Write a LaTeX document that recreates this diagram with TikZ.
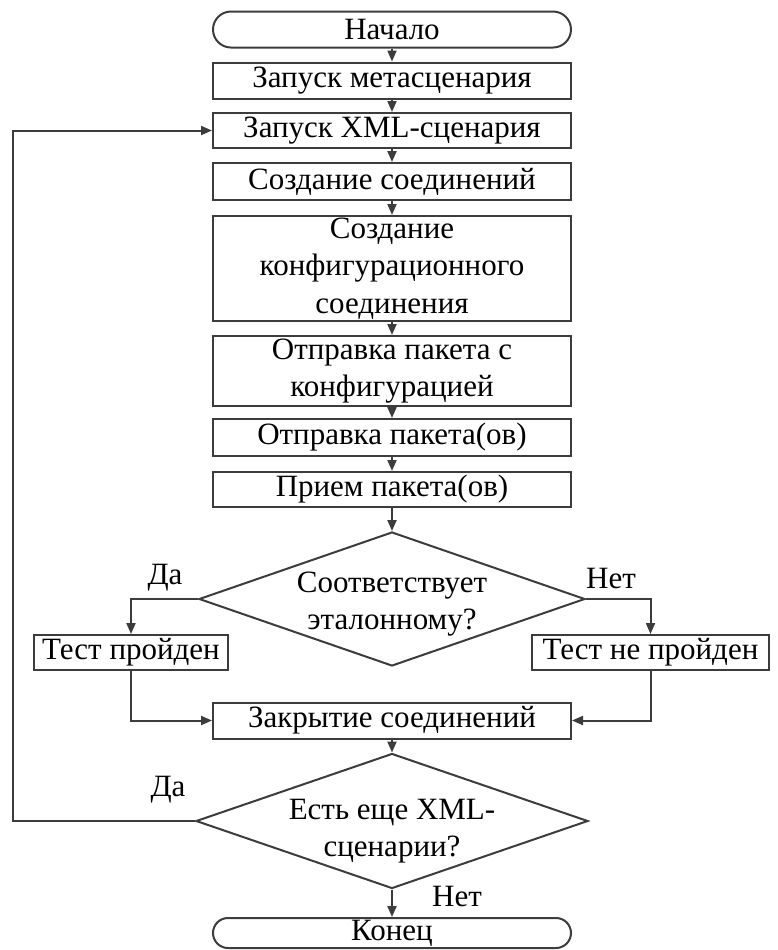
\documentclass[tikz,border=0pt]{standalone}
\usepackage{fontspec}
\setmainfont{Liberation Serif}
\usetikzlibrary{arrows.meta, shapes.geometric, shapes.misc}
\definecolor{linegray}{HTML}{3C3C3C}

\tikzset{
    every node/.style={font=\fontsize{15.5pt}{18.75pt}\selectfont, text=black},
    stepbox/.style={draw=linegray, line width=1pt, rectangle, minimum width=179pt, inner sep=0pt, align=center},
    termbox/.style={draw=linegray, line width=1pt, rounded rectangle, minimum width=179pt, minimum height=18pt, inner sep=0pt},
    testbox/.style={draw=linegray, line width=1pt, rectangle, minimum height=17.5pt, inner sep=0pt},
    decide/.style={draw=linegray, line width=1pt, diamond, aspect=2.9, inner sep=0pt},
    flow/.style={draw=linegray, line width=1pt, -{Triangle[length=5.5pt, width=4.5pt]}}
}

\begin{document}
\begin{tikzpicture}[x=0.5pt, y=-0.5pt]
    \useasboundingbox (0,0) rectangle (778,950);

    % main column
    \node[termbox] (start) at (392, 29.5) {Начало};
    \node[stepbox, minimum height=18pt] (launchmeta) at (392, 80.5) {Запуск метасценария};
    \node[stepbox, minimum height=17.5pt] (launchxml) at (392, 130.5) {Запуск XML-сценария};
    \node[stepbox, minimum height=18.5pt] (mkconn) at (392, 181.5) {Создание соединений};
    \node[stepbox, minimum height=52.5pt] (mkcfg) at (392, 268.5) {Создание\\конфигурационного\\соединения};
    \node[stepbox, minimum height=35pt] (sendcfg) at (392, 371) {Отправка пакета с\\конфигурацией};
    \node[stepbox, minimum height=18.5pt] (sendpkt) at (392, 437.5) {Отправка пакета(ов)};
    \node[stepbox, minimum height=17.5pt] (recvpkt) at (392, 489.5) {Прием пакета(ов)};

    % first decision
    \node[decide, minimum width=193pt, minimum height=67pt] (match) at (392, 599) {};
    \node[align=center] (matchtext) at (392, 604) {Соответствует\\эталонному?};
    \node[testbox, minimum width=97pt] (passed) at (131, 652.5) {Тест пройден};
    \node[testbox, minimum width=118.5pt] (failed) at (650.5, 652.5) {Тест не пройден};
    \node[stepbox, minimum height=18pt] (closeconn) at (392, 720.5) {Закрытие соединений};

    % second decision
    \node[decide, minimum width=196pt, minimum height=67.5pt] (more) at (392, 821) {};
    \node[align=center] (moretext) at (392, 831) {Есть еще XML-\\сценарии?};
    \node[termbox, minimum height=15pt] (finish) at (392, 933) {Конец};
    \coordinate (loopcorner) at (13, 821);

    % labels
    \node (yes1) at (165, 578) {Да};
    \node (no1) at (611, 578) {Нет};
    \node (yes2) at (168, 790) {Да};
    \node (no2) at (457, 896) {Нет};

    \draw[flow] (start) -- (launchmeta);
    \draw[flow] (launchmeta) -- (launchxml);
    \draw[flow] (launchxml) -- (mkconn);
    \draw[flow] (mkconn) -- (mkcfg);
    \draw[flow] (mkcfg) -- (sendcfg);
    \draw[flow] (sendcfg) -- (sendpkt);
    \draw[flow] (sendpkt) -- (recvpkt);
    \draw[flow] (recvpkt) -- (match);
    \draw[flow] (match.west) -| (passed.north);
    \draw[flow] (match.east) -| (failed.north);
    \draw[flow] (passed.south) |- (closeconn.west);
    \draw[flow] (failed.south) |- (closeconn.east);
    \draw[flow] (closeconn) -- (more);
    \draw[flow] (more.west) -- (loopcorner) |- (launchxml.west);
    \draw[flow] (more.south) -- (finish.north);
\end{tikzpicture}
\end{document}
